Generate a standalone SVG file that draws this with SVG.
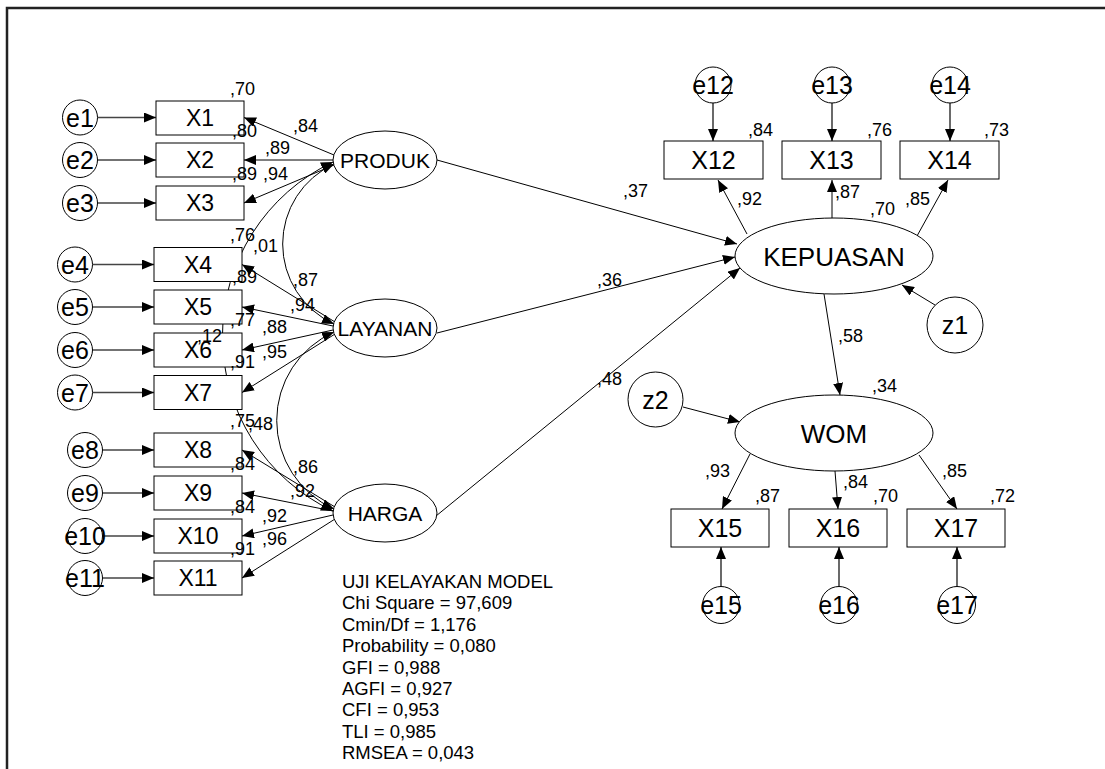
<svg xmlns="http://www.w3.org/2000/svg" width="1105" height="769" viewBox="0 0 1105 769">
<style>
.ln{stroke:#000;stroke-width:1;fill:none}
.er{stroke:#444;stroke-width:1.6;fill:none}
.sh{fill:#fff;stroke:#000;stroke-width:1}
text{font-family:"Liberation Sans",Arial,sans-serif;fill:#000}
.n{font-size:18px}
.bl{font-size:23px;text-anchor:middle}
.br{font-size:25px;text-anchor:middle}
.lr{font-size:26px;text-anchor:middle}
.el{font-size:25px;text-anchor:middle}
.lt{font-size:21px;text-anchor:middle}
.st{font-size:18.5px}
</style>
<defs>
<marker id="ah" markerUnits="userSpaceOnUse" viewBox="0 0 12 10" refX="12" refY="5" markerWidth="12" markerHeight="10" orient="auto-start-reverse"><path d="M0,0 L12,5 L0,10 z" fill="#000"/></marker>
</defs>
<rect width="1105" height="769" fill="#fff"/>
<path d="M7,769 V8 H1105" fill="none" stroke="#222" stroke-width="2.5"/>

<g id="connectors">
<path class="er" marker-end="url(#ah)" d="M97.5,117.5 H156"/>
<path class="er" marker-end="url(#ah)" d="M97.5,160 H156"/>
<path class="er" marker-end="url(#ah)" d="M97.5,203 H156"/>
<path class="er" marker-end="url(#ah)" d="M92.5,264.5 H154"/>
<path class="er" marker-end="url(#ah)" d="M92.5,307 H154"/>
<path class="er" marker-end="url(#ah)" d="M92.5,350 H154"/>
<path class="er" marker-end="url(#ah)" d="M92.5,392.5 H154"/>
<path class="er" marker-end="url(#ah)" d="M102.5,450 H154"/>
<path class="er" marker-end="url(#ah)" d="M102.5,493 H154"/>
<path class="er" marker-end="url(#ah)" d="M102.5,536 H154"/>
<path class="er" marker-end="url(#ah)" d="M102.5,578 H154"/>
<path class="ln" marker-end="url(#ah)" d="M334,155 L244,117.5"/>
<path class="ln" marker-end="url(#ah)" d="M333,160 L244,160"/>
<path class="ln" marker-end="url(#ah)" d="M334,165 L244,203"/>
<path class="ln" marker-end="url(#ah)" d="M335,322 L242,264.5"/>
<path class="ln" marker-end="url(#ah)" d="M333,326 L242,307"/>
<path class="ln" marker-end="url(#ah)" d="M333,330 L242,350"/>
<path class="ln" marker-end="url(#ah)" d="M335,334 L242,392.5"/>
<path class="ln" marker-end="url(#ah)" d="M335,507 L242,450"/>
<path class="ln" marker-end="url(#ah)" d="M333,511 L242,493"/>
<path class="ln" marker-end="url(#ah)" d="M333,515 L242,536"/>
<path class="ln" marker-end="url(#ah)" d="M335,519 L242,578"/>
<path class="ln" marker-start="url(#ah)" marker-end="url(#ah)" d="M334,164 A88,88 0 0 0 334,324"/>
<path class="ln" marker-start="url(#ah)" marker-end="url(#ah)" d="M334,332 A97,97 0 0 0 334,509"/>
<path class="ln" marker-start="url(#ah)" marker-end="url(#ah)" d="M333,162 A193,193 0 0 0 333,511"/>
<path class="ln" marker-end="url(#ah)" d="M437,160 L737,244"/>
<path class="ln" marker-end="url(#ah)" d="M437,333 L735,257"/>
<path class="ln" marker-end="url(#ah)" d="M436,516 L740,268"/>
<path class="ln" marker-end="url(#ah)" d="M824,294 L840,395"/>
<path class="ln" marker-end="url(#ah)" d="M935,305 L902,285"/>
<path class="ln" marker-end="url(#ah)" d="M683,407 L740,422"/>
<path class="ln" marker-end="url(#ah)" d="M747,234 L718,180"/>
<path class="ln" marker-end="url(#ah)" d="M832,218 L832,180"/>
<path class="ln" marker-end="url(#ah)" d="M917,236 L948,180"/>
<path class="ln" marker-end="url(#ah)" d="M750,454 L722,509"/>
<path class="ln" marker-end="url(#ah)" d="M835,471 L838,509"/>
<path class="ln" marker-end="url(#ah)" d="M919,455 L957,509"/>
<path class="er" marker-end="url(#ah)" d="M713,103 V141"/>
<path class="er" marker-end="url(#ah)" d="M832,103 V141"/>
<path class="er" marker-end="url(#ah)" d="M950,103 V141"/>
<path class="er" marker-end="url(#ah)" d="M721,586.5 V547"/>
<path class="er" marker-end="url(#ah)" d="M839,586.5 V547"/>
<path class="er" marker-end="url(#ah)" d="M957,586.5 V547"/>
</g>

<g id="e1"><circle class="sh" cx="80" cy="117.5" r="17.5"/><text class="el" x="80" y="126.5">e1</text></g>
<g id="e2"><circle class="sh" cx="80" cy="160" r="17.5"/><text class="el" x="80" y="169">e2</text></g>
<g id="e3"><circle class="sh" cx="80" cy="203" r="17.5"/><text class="el" x="80" y="212">e3</text></g>
<g id="e4"><circle class="sh" cx="75" cy="264.5" r="17.5"/><text class="el" x="75" y="273.5">e4</text></g>
<g id="e5"><circle class="sh" cx="75" cy="307" r="17.5"/><text class="el" x="75" y="316">e5</text></g>
<g id="e6"><circle class="sh" cx="75" cy="350" r="17.5"/><text class="el" x="75" y="359">e6</text></g>
<g id="e7"><circle class="sh" cx="75" cy="392.5" r="17.5"/><text class="el" x="75" y="401.5">e7</text></g>
<g id="e8"><circle class="sh" cx="85" cy="450" r="17.5"/><text class="el" x="85" y="459">e8</text></g>
<g id="e9"><circle class="sh" cx="85" cy="493" r="17.5"/><text class="el" x="85" y="502">e9</text></g>
<g id="e10"><circle class="sh" cx="85" cy="536" r="17.5"/><text class="el" x="85" y="545">e10</text></g>
<g id="e11"><circle class="sh" cx="85" cy="578" r="17.5"/><text class="el" x="85" y="587">e11</text></g>

<g id="X1"><rect class="sh" x="156" y="101" width="88" height="34"/><text class="bl" x="200" y="126">X1</text></g>
<g id="X2"><rect class="sh" x="156" y="143" width="88" height="34"/><text class="bl" x="200" y="168">X2</text></g>
<g id="X3"><rect class="sh" x="156" y="186" width="88" height="34"/><text class="bl" x="200" y="211">X3</text></g>
<g id="X4"><rect class="sh" x="154" y="247.5" width="88" height="34"/><text class="bl" x="198" y="272.5">X4</text></g>
<g id="X5"><rect class="sh" x="154" y="290" width="88" height="34"/><text class="bl" x="198" y="315">X5</text></g>
<g id="X6"><rect class="sh" x="154" y="333" width="88" height="34"/><text class="bl" x="198" y="358">X6</text></g>
<g id="X7"><rect class="sh" x="154" y="375.5" width="88" height="34"/><text class="bl" x="198" y="400.5">X7</text></g>
<g id="X8"><rect class="sh" x="154" y="433" width="88" height="34"/><text class="bl" x="198" y="458">X8</text></g>
<g id="X9"><rect class="sh" x="154" y="476" width="88" height="34"/><text class="bl" x="198" y="501">X9</text></g>
<g id="X10"><rect class="sh" x="154" y="519" width="88" height="34"/><text class="bl" x="198" y="544">X10</text></g>
<g id="X11"><rect class="sh" x="154" y="561" width="88" height="34"/><text class="bl" x="198" y="586">X11</text></g>

<g id="PRODUK"><ellipse class="sh" cx="385" cy="160" rx="52" ry="29"/><text class="lt" x="385" y="167.5">PRODUK</text></g>
<g id="LAYANAN"><ellipse class="sh" cx="385" cy="328" rx="52" ry="29"/><text class="lt" x="385" y="335.5">LAYANAN</text></g>
<g id="HARGA"><ellipse class="sh" cx="385" cy="513" rx="52" ry="29"/><text class="lt" x="385" y="520.5">HARGA</text></g>

<g id="KEPUASAN"><ellipse class="sh" cx="834" cy="256" rx="99" ry="38"/><text class="lr" x="834" y="265.5">KEPUASAN</text></g>
<g id="WOM"><ellipse class="sh" cx="834" cy="433" rx="99" ry="38"/><text class="lr" x="834" y="442.5">WOM</text></g>

<g id="X12"><rect class="sh" x="664" y="141" width="99" height="38"/><text class="br" x="713.5" y="169">X12</text></g>
<g id="X13"><rect class="sh" x="782" y="141" width="99" height="38"/><text class="br" x="831.5" y="169">X13</text></g>
<g id="X14"><rect class="sh" x="900" y="141" width="99" height="38"/><text class="br" x="949.5" y="169">X14</text></g>
<g id="X15"><rect class="sh" x="671" y="509" width="98" height="38"/><text class="br" x="720" y="537">X15</text></g>
<g id="X16"><rect class="sh" x="789" y="509" width="98" height="38"/><text class="br" x="838" y="537">X16</text></g>
<g id="X17"><rect class="sh" x="907" y="509" width="98" height="38"/><text class="br" x="956" y="537">X17</text></g>

<g id="e12"><circle class="sh" cx="713" cy="85" r="18"/><text class="el" x="713" y="94">e12</text></g>
<g id="e13"><circle class="sh" cx="832" cy="85" r="18"/><text class="el" x="832" y="94">e13</text></g>
<g id="e14"><circle class="sh" cx="950" cy="85" r="18"/><text class="el" x="950" y="94">e14</text></g>
<g id="e15"><circle class="sh" cx="721" cy="605" r="18.5"/><text class="el" x="721" y="614">e15</text></g>
<g id="e16"><circle class="sh" cx="839" cy="605" r="18.5"/><text class="el" x="839" y="614">e16</text></g>
<g id="e17"><circle class="sh" cx="957" cy="605" r="18.5"/><text class="el" x="957" y="614">e17</text></g>
<g id="z1"><circle class="sh" cx="955" cy="325" r="28"/><text class="el" x="955" y="334">z1</text></g>
<g id="z2"><circle class="sh" cx="655.5" cy="399.5" r="27.5"/><text class="el" x="655.5" y="408.5">z2</text></g>

<g id="labels">
<text class="n" x="230" y="95">,70</text>
<text class="n" x="293" y="132">,84</text>
<text class="n" x="232" y="137">,80</text>
<text class="n" x="265" y="154">,89</text>
<text class="n" x="232" y="180">,89</text>
<text class="n" x="263" y="180">,94</text>
<text class="n" x="230" y="241">,76</text>
<text class="n" x="253" y="252">,01</text>
<text class="n" x="232" y="283">,89</text>
<text class="n" x="293" y="286">,87</text>
<text class="n" x="290" y="311">,94</text>
<text class="n" x="230" y="326">,77</text>
<text class="n" x="197" y="342">,12</text>
<text class="n" x="262" y="333">,88</text>
<text class="n" x="262" y="358">,95</text>
<text class="n" x="230" y="368">,91</text>
<text class="n" x="230" y="427">,75</text>
<text class="n" x="248" y="430">,48</text>
<text class="n" x="293" y="473">,86</text>
<text class="n" x="230" y="470">,84</text>
<text class="n" x="290" y="497">,92</text>
<text class="n" x="230" y="513">,84</text>
<text class="n" x="262" y="522">,92</text>
<text class="n" x="262" y="545">,96</text>
<text class="n" x="230" y="555">,91</text>
<text class="n" x="623" y="197">,37</text>
<text class="n" x="597" y="286">,36</text>
<text class="n" x="597" y="385">,48</text>
<text class="n" x="748" y="136">,84</text>
<text class="n" x="867" y="136">,76</text>
<text class="n" x="984" y="136">,73</text>
<text class="n" x="737" y="205">,92</text>
<text class="n" x="835" y="198">,87</text>
<text class="n" x="870" y="215">,70</text>
<text class="n" x="905" y="205">,85</text>
<text class="n" x="838" y="342">,58</text>
<text class="n" x="872" y="392">,34</text>
<text class="n" x="705" y="477">,93</text>
<text class="n" x="755" y="502">,87</text>
<text class="n" x="843" y="488">,84</text>
<text class="n" x="873" y="502">,70</text>
<text class="n" x="942" y="477">,85</text>
<text class="n" x="990" y="502">,72</text>
</g>

<g id="fit">
<text class="st" x="342" y="588">UJI KELAYAKAN MODEL</text>
<text class="st" x="342" y="609.4">Chi Square = 97,609</text>
<text class="st" x="342" y="630.8">Cmin/Df = 1,176</text>
<text class="st" x="342" y="652.2">Probability = 0,080</text>
<text class="st" x="342" y="673.6">GFI = 0,988</text>
<text class="st" x="342" y="695">AGFI = 0,927</text>
<text class="st" x="342" y="716.4">CFI = 0,953</text>
<text class="st" x="342" y="737.8">TLI = 0,985</text>
<text class="st" x="342" y="759.2">RMSEA = 0,043</text>
</g>
</svg>
